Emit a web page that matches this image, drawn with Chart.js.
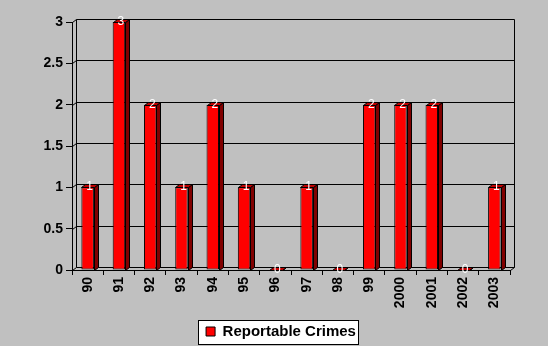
<!DOCTYPE html>
<html>
<head>
<meta charset="utf-8">
<script src="https://cdn.jsdelivr.net/npm/chart.js@4.4.0/dist/chart.umd.min.js"></script>
<style>
  html, body { margin: 0; padding: 0; background: #c0c0c0; }
  #wrap { width: 548px; height: 346px; }
</style>
</head>
<body>
<div id="wrap"><canvas id="crimesChart"></canvas></div>
<script>
// Reportable crimes per year
const years = ['90', '91', '92', '93', '94', '95', '96', '97', '98', '99', '2000', '2001', '2002', '2003'];
const crimes = [1, 3, 2, 1, 2, 1, 0, 1, 0, 2, 2, 2, 0, 1];
const yTicks = [0, 0.5, 1, 1.5, 2, 2.5, 3];
const seriesName = 'Reportable Crimes';

const FONT = 'Arial, "Liberation Sans", sans-serif';
const DX = 4, DY = 3; // depth of the fake 3d

// back wall, floor, left wall + grid lines
const walls3d = {
  id: 'walls3d',
  afterLayout(chart) {
    // nudge the legend a bit right / down
    const lg = chart.legend;
    if (lg) {
      lg.left += 26; lg.right += 26;
      lg.top += 3; lg.bottom += 3;
    }
  },
  beforeDraw(chart) {
    const { ctx, width, height } = chart;
    ctx.save();
    ctx.fillStyle = '#c0c0c0';
    ctx.fillRect(0, 0, width, height);
    // white box behind the legend
    const hb = chart.legend && chart.legend.legendHitBoxes[0];
    if (hb) {
      ctx.fillStyle = '#fff';
      ctx.strokeStyle = '#000';
      ctx.lineWidth = 1;
      const cy = hb.top + hb.height / 2;
      const x = Math.round(hb.left) - 7.5, y = Math.round(cy - 12) + 0.5;
      const w = Math.round(hb.width) + 10;
      ctx.fillRect(x, y, w, 24);
      ctx.strokeRect(x, y, w, 24);
    }
    ctx.restore();
  },
  beforeDatasetsDraw(chart) {
    const { ctx, chartArea: a, scales: { y } } = chart;
    const L = a.left + 0.5, R = a.right + 0.5;
    ctx.save();
    ctx.strokeStyle = '#000';
    ctx.lineWidth = 1;
    yTicks.forEach(v => {
      const py = Math.round(y.getPixelForValue(v)) + 0.5;
      ctx.beginPath();
      ctx.moveTo(L, py);
      ctx.lineTo(L + DX, py - DY);
      ctx.lineTo(R + DX, py - DY);
      ctx.stroke();
    });
    const top = Math.round(y.getPixelForValue(3)) + 0.5;
    const bot = Math.round(y.getPixelForValue(0)) + 0.5;
    ctx.beginPath();
    // left wall back edge
    ctx.moveTo(L + DX, top - DY);
    ctx.lineTo(L + DX, bot - DY);
    // right edge of back wall
    ctx.moveTo(R + DX, top - DY);
    ctx.lineTo(R + DX, bot - DY);
    // floor front edge
    ctx.moveTo(L, bot);
    ctx.lineTo(R, bot);
    ctx.lineTo(R + DX, bot - DY);
    ctx.stroke();
    ctx.restore();
  },
  afterDatasetsDraw(chart) {
    const { ctx } = chart;
    const meta = chart.getDatasetMeta(0);
    ctx.save();
    ctx.strokeStyle = '#000';
    ctx.lineWidth = 1;
    meta.data.forEach((bar, i) => {
      const l = Math.round(bar.x - bar.width / 2) + 0.5;
      const r = Math.round(bar.x + bar.width / 2) + 0.5;
      const t = Math.round(bar.y) + 0.5;
      const b = Math.round(bar.base) + 0.5;
      // side face
      ctx.fillStyle = '#800000';
      ctx.beginPath();
      ctx.moveTo(r, t);
      ctx.lineTo(r + DX, t - DY);
      ctx.lineTo(r + DX, b - DY);
      ctx.lineTo(r, b);
      ctx.closePath();
      ctx.fill();
      ctx.stroke();
      // top face
      ctx.fillStyle = '#c00000';
      ctx.beginPath();
      ctx.moveTo(l, t);
      ctx.lineTo(l + DX, t - DY);
      ctx.lineTo(r + DX, t - DY);
      ctx.lineTo(r, t);
      ctx.closePath();
      ctx.fill();
      ctx.stroke();
      // value label
      ctx.fillStyle = '#fff';
      ctx.font = '12px ' + FONT;
      ctx.textAlign = 'center';
      ctx.textBaseline = 'middle';
      ctx.fillText(String(crimes[i]), bar.x + DX / 2, t - 1);
    });
    ctx.restore();
  }
};

new Chart(document.getElementById('crimesChart'), {
  type: 'bar',
  data: {
    labels: years,
    datasets: [{
      label: seriesName,
      data: crimes,
      backgroundColor: '#ff0000',
      borderColor: '#000',
      borderWidth: 1,
      borderSkipped: false,
      categoryPercentage: 1,
      barPercentage: 0.4
    }]
  },
  options: {
    responsive: true,
    maintainAspectRatio: false,
    animation: false,
    layout: { padding: { left: 0, right: 38, top: 22, bottom: 0 } },
    plugins: {
      legend: {
        position: 'bottom',
        labels: {
          boxWidth: 9,
          boxHeight: 9,
          padding: 2,
          color: '#000',
          font: { family: FONT, size: 15, weight: 'bold', lineHeight: 1 }
        }
      },
      tooltip: { enabled: false }
    },
    scales: {
      x: {
        grid: { drawOnChartArea: false, tickLength: 5, color: '#000' },
        border: { color: '#000' },
        ticks: {
          minRotation: 90,
          maxRotation: 90,
          padding: 2,
          color: '#000',
          font: { family: FONT, size: 14, weight: 'bold' }
        },
        afterFit: s => { s.height = 49; }
      },
      y: {
        min: 0,
        max: 3,
        grid: { drawOnChartArea: false, tickLength: 6, color: '#000' },
        border: { color: '#000' },
        ticks: {
          stepSize: 0.5,
          padding: 3,
          color: '#000',
          font: { family: FONT, size: 14, weight: 'bold' },
          callback: v => String(v)
        },
        afterFit: s => { s.width = 72; }
      }
    }
  },
  plugins: [walls3d]
});
</script>
</body>
</html>
